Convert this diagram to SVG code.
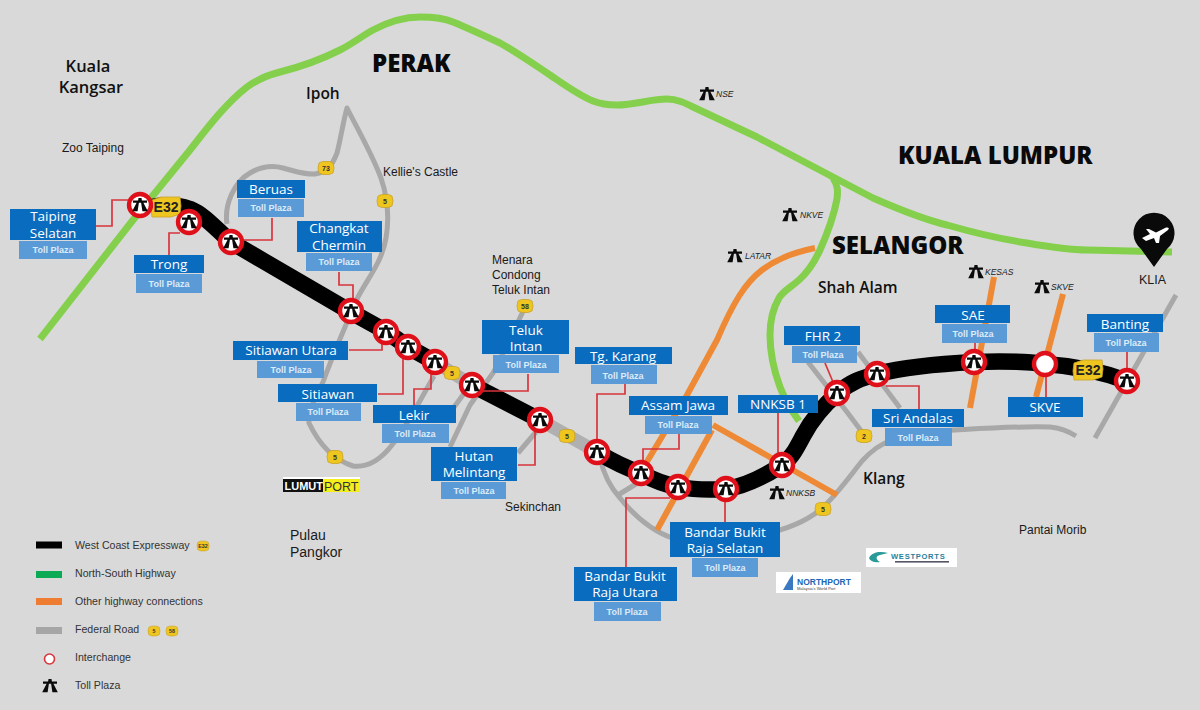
<svg xmlns="http://www.w3.org/2000/svg" xmlns:xlink="http://www.w3.org/1999/xlink" width="1200" height="710" viewBox="0 0 1200 710">
<style>
text{font-family:"Liberation Sans",Arial,sans-serif;fill:#1a1a1a}
.r{fill:none;stroke-linejoin:round}
.g{stroke:#84d04c;stroke-width:7}
.o{stroke:#ee8a35;stroke-width:6}
.y{stroke:#a8a8a8;stroke-width:5}
.yw{stroke:#b0b0b0;stroke-width:13}
.k{stroke:#000;stroke-width:16.500}
.l{fill:none;stroke:#d8353c;stroke-width:1.7}
.b{fill:#0a6cbf}
.s{fill:#5a9ad6}
.t{font-family:"Open Sans","Noto Sans",sans-serif;fill:#fff;font-size:13.5px;text-anchor:middle}
.u{font-family:"Liberation Sans",sans-serif;fill:#dcebf8;font-size:9px;font-weight:700;text-anchor:middle}
.i{fill:#fff;stroke:#e0101a;stroke-width:4.4}
.m{font-size:12px}
.h{font-family:"Open Sans","Noto Sans",sans-serif;font-weight:800;font-size:24px;fill:#0a0a0a}
.c{font-family:"Open Sans","Noto Sans",sans-serif;font-weight:600;font-size:15.5px;fill:#111}
.tag{font-size:8.5px;font-style:italic;fill:#222}
.leg{font-size:10.6px;fill:#333}
.bd{fill:#efc51f;stroke:#c9a227;stroke-width:.8}
.bt{font-size:7px;font-weight:700;fill:#333;text-anchor:middle}
.bT{font-size:14px;font-weight:700;fill:#222;text-anchor:middle}
</style>
<defs>
<path id="toll" d="M-1.500,-7H1.500L1.900,-4.600H7V-2.300H3.400L7.800,6.300H2.400L1.100,-2.300H-1.100L-2.400,6.300H-7.800L-3.400,-2.300H-7V-4.600H-1.900Z" fill="#0a0a0a"/>
<polygon id="bs" points="-7,-5 -3.5,-6.500 3.5,-6.500 7,-5 8,0 7,5 3,6.500 -3,6.500 -7,5 -8,0"/>
<polygon id="bl" points="-14,-7 -5,-10 14,-10 15,-1 14,7 5,10 -14,10 -15,1"/>
</defs>
<rect width="1200" height="710" fill="#d9d9d9"/>
<g id="connectors">
<g id="federal-roads">
<path class="r y" d="M227,224C224,205 234,182 250,173C262,166 272,165 283,168C295,171 305,175 315,174C327,172 332,166 337,153C341,138 343,122 347,108C358,130 371,152 381,178C387,196 390,215 386,238C382,262 368,278 358,297C347,322 334,352 323,382C314,400 308,413 309,423C318,442 331,459 353,466C370,468 382,458 392,445C408,425 420,400 434,376"/>
<path class="r y" d="M525,307L512,335L493,373L470,405L450,447"/>
<path class="r y" d="M452,410L465,392"/>
<path class="r y" d="M518,453L536,432"/>
<path class="r yw" d="M435,362L472,385"/>
<path class="r yw" d="M540,420L597,452"/>
<path class="r y" d="M600,458C604,476 611,488 620,498C632,513 650,530 672,538L760,535C785,530 805,522 820,510C836,496 850,476 862,461C872,450 880,444 892,440C915,432 930,431 955,430C990,428 1020,426 1050,427C1060,428 1068,431 1076,436"/>
<path class="r y" d="M618,495L636,484"/>
<path class="r y" d="M808,362L847,412L862,432"/>
<path class="r y" d="M858,352L900,408"/>
<path class="r y" d="M1176,295L1095,438"/>
</g>
<g id="orange-roads">
<path class="r o" d="M815,248C795,252 778,258 762,270C745,283 733,303 717,340L687,395L645,465"/>
<path class="r o" d="M712,430L657,530"/>
<path class="r o" d="M713,425L837,495"/>
<path class="r o" d="M994,277L970,408"/>
<path class="r o" d="M1063,294L1036,397"/>
</g>
<g id="north-south-highway">
<path class="r g" d="M40,339L133,220L190,150C205,131 225,104 247,87C258,79 268,75 280,72C300,67 322,59 340,50C352,44 362,36 373,30C390,21 405,17 420,17C432,17 444,18 453,22C470,29 485,36 500,43C516,52 532,63 547,73C562,83 578,95 593,101C603,105 610,105 617,105C635,105 650,99 667,99C677,99 685,103 693,107L757,137L833,177L873,198C898,209 922,219 947,225C975,233 1000,239 1027,243C1050,247 1070,250 1087,250L1172,252"/>
<path class="r g" d="M833,178C838,186 838,191 837,199C834,215 828,232 820,250C814,263 808,272 799,280C790,288 783,291 779,298C772,310 770,322 770,335C770,352 773,368 780,387C785,400 791,410 799,421"/>
</g>
<g id="expressway">
<path class="r k" d="M152,207C165,204 178,205 190,209C205,215 218,231 231,242L351,312L387,332L408,347L435,362"/>
<path class="r k" d="M472,385L540,420"/>
<path class="r k" d="M597,452C612,461 625,468 641,473C653,480 665,485 679,487C695,490 710,490 726,489C746,486 765,476 782,465C792,458 797,447 803,436C811,421 824,405 838,393C850,382 862,378 877,374C905,367 935,364 974,362C1000,361 1022,361 1045,364C1075,366 1100,371 1127,381"/>
</g>
<g id="leaders">
<path class="l" d="M96,226H112V200H130"/>
<path class="l" d="M169,255V233H180"/>
<path class="l" d="M272,218V240H241"/>
<path class="l" d="M339,272V285H353V300"/>
<path class="l" d="M349,350H382V344"/>
<path class="l" d="M378,394H403V358"/>
<path class="l" d="M414,405V389H431V373"/>
<path class="l" d="M518,465H535V430"/>
<path class="l" d="M528,374V391H483"/>
<path class="l" d="M625,384V394H597V441"/>
<path class="l" d="M679,434V449H643V461"/>
<path class="l" d="M626,567V498H670"/>
<path class="l" d="M725,499V522"/>
<path class="l" d="M778,413V454"/>
<path class="l" d="M825,363L833,382"/>
<path class="l" d="M886,386H919V409"/>
<path class="l" d="M975,343V351"/>
<path class="l" d="M1046,377V397"/>
<path class="l" d="M1127,352V370"/>
</g>
</g>
<g id="road-badges">
<g transform="translate(166,207)"><use href="#bl" class="bd"/><text class="bT" y="5">E32</text></g>
<g transform="translate(1088,370)"><use href="#bl" class="bd"/><text class="bT" y="5">E32</text></g>
<g transform="translate(326,168)"><use href="#bs" class="bd"/><text class="bt" y="2.500">73</text></g>
<g transform="translate(385,201)"><use href="#bs" class="bd"/><text class="bt" y="2.500">5</text></g>
<g transform="translate(452,373)"><use href="#bs" class="bd"/><text class="bt" y="2.500">5</text></g>
<g transform="translate(567,436)"><use href="#bs" class="bd"/><text class="bt" y="2.500">5</text></g>
<g transform="translate(335,457)"><use href="#bs" class="bd"/><text class="bt" y="2.500">5</text></g>
<g transform="translate(525,306)"><use href="#bs" class="bd"/><text class="bt" y="2.500">58</text></g>
<g transform="translate(864,436)"><use href="#bs" class="bd"/><text class="bt" y="2.500">2</text></g>
<g transform="translate(823,509)"><use href="#bs" class="bd"/><text class="bt" y="2.500">5</text></g>
</g>
<g id="n-taiping"><rect class="b" x="10" y="209" width="86" height="31"/><rect class="s" x="19" y="241" width="68" height="18"/><text class="t" x="53" y="221">Taiping</text><text class="t" x="53" y="237.500">Selatan</text><text class="u" x="53" y="253">Toll Plaza</text><circle class="i" cx="140" cy="205" r="11"/><use href="#toll" x="140" y="205"/></g>
<g id="n-trong"><rect class="b" x="134" y="255" width="70" height="18"/><rect class="s" x="136" y="274" width="66" height="19"/><text class="t" x="169" y="269">Trong</text><text class="u" x="169" y="287">Toll Plaza</text><circle class="i" cx="189" cy="222" r="11"/><use href="#toll" x="189" y="222"/></g>
<g id="n-beruas"><rect class="b" x="237" y="180" width="68" height="18"/><rect class="s" x="238" y="199" width="66" height="18"/><text class="t" x="271" y="194">Beruas</text><text class="u" x="271" y="211">Toll Plaza</text><circle class="i" cx="231" cy="242" r="11"/><use href="#toll" x="231" y="242"/></g>
<g id="n-changkat"><rect class="b" x="297" y="221" width="85" height="31"/><rect class="s" x="306" y="253" width="66" height="18"/><text class="t" x="339" y="233">Changkat</text><text class="t" x="339" y="249.500">Chermin</text><text class="u" x="339" y="265">Toll Plaza</text><circle class="i" cx="351" cy="311" r="11"/><use href="#toll" x="351" y="311"/></g>
<g id="n-sitiawan-utara"><rect class="b" x="233" y="341" width="115" height="19"/><rect class="s" x="257" y="361" width="67" height="17"/><text class="t" x="291" y="355">Sitiawan Utara</text><text class="u" x="291" y="373">Toll Plaza</text><circle class="i" cx="386" cy="332" r="11"/><use href="#toll" x="386" y="332"/></g>
<g id="n-sitiawan"><rect class="b" x="278" y="384" width="99" height="18"/><rect class="s" x="296" y="403" width="65" height="18"/><text class="t" x="328" y="399">Sitiawan</text><text class="u" x="328" y="415">Toll Plaza</text><circle class="i" cx="408" cy="347" r="11"/><use href="#toll" x="408" y="347"/></g>
<g id="n-lekir"><rect class="b" x="373" y="405" width="83" height="18"/><rect class="s" x="382" y="424" width="67" height="19"/><text class="t" x="414" y="420">Lekir</text><text class="u" x="415" y="437">Toll Plaza</text><circle class="i" cx="435" cy="362" r="11"/><use href="#toll" x="435" y="362"/></g>
<g id="n-teluk-intan"><rect class="b" x="482" y="320" width="87" height="34"/><rect class="s" x="493" y="355" width="66" height="18"/><text class="t" x="526" y="335">Teluk</text><text class="t" x="526" y="351">Intan</text><text class="u" x="526" y="368">Toll Plaza</text><circle class="i" cx="472" cy="385" r="11"/><use href="#toll" x="472" y="385"/></g>
<g id="n-hutan"><rect class="b" x="431" y="447" width="86" height="34"/><rect class="s" x="441" y="482" width="65" height="17"/><text class="t" x="474" y="461">Hutan</text><text class="t" x="474" y="477">Melintang</text><text class="u" x="474" y="494">Toll Plaza</text><circle class="i" cx="540" cy="420" r="11"/><use href="#toll" x="540" y="420"/></g>
<g id="n-tg-karang"><rect class="b" x="575" y="347" width="97" height="17"/><rect class="s" x="591" y="365" width="66" height="19"/><text class="t" x="623" y="361">Tg. Karang</text><text class="u" x="623" y="379">Toll Plaza</text><circle class="i" cx="597" cy="452" r="11"/><use href="#toll" x="597" y="452"/></g>
<g id="n-assam-jawa"><rect class="b" x="629" y="396" width="99" height="19"/><rect class="s" x="645" y="416" width="67" height="18"/><text class="t" x="678" y="410">Assam Jawa</text><text class="u" x="678" y="428">Toll Plaza</text><circle class="i" cx="641" cy="473" r="11"/><use href="#toll" x="641" y="473"/></g>
<g id="n-bbr-utara"><rect class="b" x="574" y="567" width="103" height="34"/><rect class="s" x="594" y="602" width="67" height="19"/><text class="t" x="625" y="581">Bandar Bukit</text><text class="t" x="625" y="597">Raja Utara</text><text class="u" x="627" y="615">Toll Plaza</text><circle class="i" cx="678" cy="487" r="11"/><use href="#toll" x="678" y="487"/></g>
<g id="n-bbr-selatan"><rect class="b" x="670" y="522" width="110" height="35"/><rect class="s" x="692" y="558" width="66" height="19"/><text class="t" x="725" y="537">Bandar Bukit</text><text class="t" x="725" y="553">Raja Selatan</text><text class="u" x="725" y="571">Toll Plaza</text><circle class="i" cx="726" cy="489" r="11"/><use href="#toll" x="726" y="489"/></g>
<g id="n-nnksb"><rect class="b" x="738" y="395" width="80" height="18"/><text class="t" x="778" y="409">NNKSB 1</text><circle class="i" cx="782" cy="465" r="11"/><use href="#toll" x="782" y="465"/></g>
<g id="n-fhr2"><rect class="b" x="784" y="326" width="76" height="19"/><rect class="s" x="792" y="346" width="65" height="17"/><text class="t" x="823" y="341">FHR 2</text><text class="u" x="823" y="358">Toll Plaza</text><circle class="i" cx="837" cy="393" r="11"/><use href="#toll" x="837" y="393"/></g>
<g id="n-sri-andalas"><rect class="b" x="872" y="409" width="92" height="18"/><rect class="s" x="885" y="428" width="67" height="18"/><text class="t" x="918" y="423">Sri Andalas</text><text class="u" x="918" y="441">Toll Plaza</text><circle class="i" cx="877" cy="374" r="11"/><use href="#toll" x="877" y="374"/></g>
<g id="n-sae"><rect class="b" x="935" y="305" width="75" height="18"/><rect class="s" x="942" y="324" width="65" height="19"/><text class="t" x="973" y="320">SAE</text><text class="u" x="973" y="337">Toll Plaza</text><circle class="i" cx="974" cy="362" r="11"/><use href="#toll" x="974" y="362"/></g>
<g id="n-skve"><rect class="b" x="1008" y="397" width="75" height="20"/><text class="t" x="1045" y="412">SKVE</text><circle class="i" cx="1045" cy="364" r="11"/></g>
<g id="n-banting"><rect class="b" x="1087" y="314" width="76" height="18"/><rect class="s" x="1094" y="333" width="65" height="19"/><text class="t" x="1125" y="329">Banting</text><text class="u" x="1126" y="346">Toll Plaza</text><circle class="i" cx="1127" cy="381" r="11"/><use href="#toll" x="1127" y="381"/></g>
<g id="klia"><path d="M1154,267L1141,249A20.500,20.500 0 1 1 1167,249Z" fill="#0a0a0a"/><path d="M1142,238L1150,234L1146,229L1149,229L1156,232.500L1165,228C1168,227 1170,228 1168,230L1160,236L1159,243L1156,243L1154,238L1146,241Z" fill="#fff"/><text x="1139" y="284" font-size="12.500">KLIA</text></g>
<g id="places">
<text class="c" style="font-size:16.500px" x="88" y="72" text-anchor="middle">Kuala</text><text class="c" style="font-size:16.500px" x="91" y="93" text-anchor="middle">Kangsar</text>
<text class="m" x="62" y="152">Zoo Taiping</text>
<text class="c" x="306" y="99">Ipoh</text>
<text class="h" x="372" y="72">PERAK</text>
<text class="h" x="898" y="164">KUALA LUMPUR</text>
<text class="h" x="832" y="254">SELANGOR</text>
<text class="c" x="818" y="293">Shah Alam</text>
<text class="c" x="863" y="484">Klang</text>
<text class="m" x="383" y="176">Kellie's Castle</text>
<text class="m" x="492" y="264">Menara</text><text class="m" x="492" y="279">Condong</text><text class="m" x="492" y="294">Teluk Intan</text>
<text class="m" x="505" y="511">Sekinchan</text>
<text x="290" y="540" font-size="14">Pulau</text><text x="290" y="557" font-size="14">Pangkor</text>
<text class="m" x="1019" y="534">Pantai Morib</text>
</g>
<g id="highway-tags">
<use href="#toll" x="707" y="94"/><text class="tag" x="716" y="97">NSE</text>
<use href="#toll" x="790" y="215"/><text class="tag" x="800" y="218">NKVE</text>
<use href="#toll" x="735" y="256"/><text class="tag" x="745" y="259">LATAR</text>
<use href="#toll" x="976" y="272"/><text class="tag" x="985" y="275">KESAS</text>
<use href="#toll" x="1042" y="287"/><text class="tag" x="1051" y="290">SKVE</text>
<use href="#toll" x="777" y="493"/><text class="tag" x="786" y="496">NNKSB</text>
</g>
<g id="logos">
<rect x="283" y="477" width="77" height="2" fill="#fff"/><rect x="283" y="479" width="40" height="13" fill="#111"/><rect x="323" y="479" width="37" height="13" fill="#f4ee1c"/>
<text x="284.500" y="490" font-size="11" font-weight="700" style="fill:#fff">LUMUT</text><text x="324" y="490.500" font-size="12.500" style="fill:#333">PORT</text>
<rect x="866" y="548" width="91" height="19" fill="#fff"/><path d="M869,558C872,552 880,551 888,553L880,555C876,556 875,559 880,562C874,563 870,561 869,558Z" fill="#2a9a98"/><text x="891" y="559" font-size="7.600" font-weight="700" letter-spacing=".7" style="fill:#2a7f9c">WESTPORTS</text><rect x="895" y="561" width="54" height="1.600" fill="#556"/>
<rect x="776" y="572" width="85" height="21" fill="#fff"/><path d="M783,590L790,578L793,574V590Z" fill="#3a78c0"/><text x="797" y="585" font-size="8.500" font-weight="700" style="fill:#1c66b4">NORTHPORT</text><text x="797" y="590" font-size="4" style="fill:#444">Malaysia's World Port</text>
</g>
<g id="legend">
<rect x="36" y="541.500" width="26" height="7" fill="#000"/><text class="leg" x="75" y="549">West Coast Expressway</text><g transform="translate(203,546) scale(.75)"><use href="#bs" class="bd"/><text class="bt" y="2.500">E32</text></g>
<rect x="36" y="571" width="26" height="7" fill="#0bab55"/><text class="leg" x="75" y="577">North-South Highway</text>
<rect x="36" y="598" width="26" height="7" fill="#ee7d31"/><text class="leg" x="75" y="605">Other highway connections</text>
<rect x="36" y="627" width="26" height="7" fill="#a6a6a6"/><text class="leg" x="75" y="633">Federal Road</text><g transform="translate(154,631) scale(.75)"><use href="#bs" class="bd"/><text class="bt" y="2.500">5</text></g><g transform="translate(172,631) scale(.75)"><use href="#bs" class="bd"/><text class="bt" y="2.500">58</text></g>
<circle cx="49.500" cy="659" r="5" fill="#fff" stroke="#d8353c" stroke-width="1.600"/><text class="leg" x="75" y="661">Interchange</text>
<use href="#toll" x="50" y="686"/><text class="leg" x="75" y="689">Toll Plaza</text>
</g>
</svg>
